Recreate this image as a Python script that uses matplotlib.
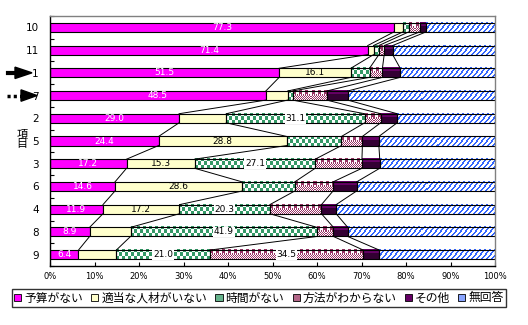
import numpy as np
import matplotlib
matplotlib.use("Agg")
import matplotlib.pyplot as plt
from matplotlib.patches import Patch, Polygon
from matplotlib.lines import Line2D
import matplotlib.transforms as mtransforms

plt.rcParams['font.family'] = ['Noto Sans CJK JP', 'DejaVu Sans']

categories = ['10', '11', '1', '7', '2', '5', '3', '6', '4', '8', '9']
series_names = ['予算がない', '適当な人材がいない', '時間がない', '方法がわからない', 'その他', '無回答']
budget = [77.3, 71.4, 51.5, 48.5, 29.0, 24.4, 17.2, 14.6, 11.9, 8.9, 6.4]
staff = [2.0, 1.3, 16.1, 4.9, 10.6, 28.8, 15.3, 28.6, 17.2, 9.2, 8.5]
time_ = [1.3, 1.2, 4.2, 1.1, 31.1, 12.3, 27.1, 11.8, 20.3, 41.9, 21.0]
method = [2.5, 1.2, 2.9, 7.7, 3.6, 4.7, 10.5, 8.6, 11.6, 3.7, 34.5]
other = [1.4, 1.9, 4.0, 4.7, 3.7, 3.7, 4.0, 5.3, 3.3, 3.2, 3.6]
noans = [15.5, 23.0, 21.3, 33.1, 22.0, 26.1, 25.9, 31.1, 35.7, 33.1, 26.0]
xtick_labels = ['0%', '10%', '20%', '30%', '40%', '50%', '60%', '70%', '80%', '90%', '100%']

series = [budget, staff, time_, method, other, noans]
kinds = ['solid_m', 'solid_y', 'green', 'method', 'other', 'stripe']

W, H = 528, 325
fig = plt.figure(figsize=(W / 100, H / 100), dpi=100)
ax = fig.add_axes([50 / W, 59 / H, 445 / W, 250 / H])
ax.set_xlim(0, 100)
ax.set_ylim(10.5, -0.5)

ypos = np.arange(len(categories))
bar_h = 0.4

GREEN = np.array([0x33, 0x99, 0x66]) / 255
MAROON = np.array([0x99, 0x33, 0x66]) / 255
PURP1 = np.array([0x66, 0x00, 0x66]) / 255
PURP2 = np.array([0x33, 0x00, 0x33]) / 255
BLUE = np.array([0x33, 0x66, 0xFF]) / 255


def make_pattern(kind, h, w):
    r, c = np.mgrid[0:h, 0:w]
    arr = np.ones((h, w, 3))
    if kind == 'green':
        m = ((r // 3) + (c // 3)) % 2 == 0
        arr[m] = GREEN
    elif kind == 'method':
        top = r < h // 2
        m1 = top & (((c // 3) % 2) == 0)
        m2 = (~top) & (((r + c) % 2) == 0)
        arr[m1 | m2] = MAROON
    elif kind == 'other':
        arr[:] = PURP2
        arr[r < h // 2] = PURP1
    elif kind == 'stripe':
        m = ((r + c) % 5) < 2
        arr[m] = BLUE
    return arr


left = np.zeros(len(categories))
cums = [left.copy()]
for vals, kind in zip(series, kinds):
    vals = np.array(vals)
    if kind == 'solid_m':
        bars = ax.barh(ypos, vals, left=left, height=bar_h, color='#FF00FF',
                       edgecolor='black', linewidth=0.8, zorder=2)
    elif kind == 'solid_y':
        bars = ax.barh(ypos, vals, left=left, height=bar_h, color='#FFFFCC',
                       edgecolor='black', linewidth=0.8, zorder=2)
    else:
        bars = ax.barh(ypos, vals, left=left, height=bar_h, facecolor='none',
                       edgecolor='black', linewidth=0.8, zorder=2)
        for b in bars:
            bb = b.get_window_extent()
            pw = max(1, int(round(bb.width)))
            ph = max(1, int(round(bb.height)))
            arr = make_pattern(kind, ph, pw)
            x0, y0 = b.get_x(), b.get_y()
            ax.imshow(arr, extent=(x0, x0 + b.get_width(), y0 + b.get_height(), y0),
                      origin='upper', aspect='auto', interpolation='nearest', zorder=1)
    for i, (b, v) in enumerate(zip(bars, vals)):
        cx = b.get_x() + b.get_width() / 2
        if kind == 'solid_m':
            ax.text(cx, ypos[i], f'{v:.1f}', color='white', ha='center', va='center',
                    fontsize=6.5, family='DejaVu Sans', zorder=5)
        elif kind == 'solid_y' and v >= 15:
            ax.text(cx, ypos[i], f'{v:.1f}', color='black', ha='center', va='center',
                    fontsize=6.5, family='DejaVu Sans', zorder=5)
        elif kind in ('green', 'method') and v >= 15:
            ax.text(cx, ypos[i], f'{v:.1f}', color='black', ha='center', va='center',
                    fontsize=6.5, family='DejaVu Sans', zorder=5,
                    bbox=dict(facecolor='white', edgecolor='none', pad=0.6))
    left = left + vals
    cums.append(left.copy())

# series lines
for k in range(1, 6):
    c = cums[k]
    for i in range(len(categories) - 1):
        ax.plot([c[i], c[i + 1]], [ypos[i] + bar_h / 2, ypos[i + 1] - bar_h / 2],
                color='black', linewidth=0.7, zorder=3)

ax.set_xlim(0, 100)
ax.set_ylim(10.5, -0.5)

ax.set_xticks(np.arange(0, 101, 10))
ax.set_xticklabels(xtick_labels, fontsize=6, family='DejaVu Sans')
ax.tick_params(axis='x', direction='in', length=3, pad=4, width=0.8)
ax.set_yticks(ypos)
ax.set_yticklabels(categories, fontsize=7.5, family='DejaVu Sans')
ax.set_yticks(np.arange(-0.5, 10.6, 1), minor=True)
ax.tick_params(axis='y', which='major', length=0, pad=8)
ax.tick_params(axis='y', which='minor', direction='in', length=3, width=0.8)

for s in ['left', 'bottom']:
    ax.spines[s].set_color('black')
    ax.spines[s].set_linewidth(1)
for s in ['top', 'right']:
    ax.spines[s].set_color('#808080')
    ax.spines[s].set_linewidth(1)

# arrows on the left
bt = mtransforms.blended_transform_factory(fig.transFigure, ax.transData)
r1 = categories.index('1')
r7 = categories.index('7')
ax.add_line(Line2D([8 / W, 17 / W], [r1, r1], transform=bt, color='black',
                   linewidth=3, clip_on=False))
ax.add_patch(Polygon([[15 / W, r1 - 0.25], [32 / W, r1], [15 / W, r1 + 0.25]],
                     closed=True, transform=bt, color='black', clip_on=False))
ax.add_line(Line2D([7 / W, 22 / W], [r7, r7], transform=bt, color='black',
                   linewidth=2.5, linestyle=(0, (0.9, 0.9)), clip_on=False))
ax.add_patch(Polygon([[21 / W, r7 - 0.25], [37 / W, r7], [21 / W, r7 + 0.25]],
                     closed=True, transform=bt, color='black', clip_on=False))

fig.text(22 / W, 1 - 139 / H, '項\n目', ha='center', va='center', fontsize=8,
         linespacing=1.1)

handles = [
    Patch(facecolor='#FF00FF', edgecolor='black', linewidth=0.6),
    Patch(facecolor='#FFFFCC', edgecolor='black', linewidth=0.6),
    Patch(facecolor='#66b38c', edgecolor='black', linewidth=0.6),
    Patch(facecolor='#b36688', edgecolor='black', linewidth=0.6),
    Patch(facecolor='#660066', edgecolor='black', linewidth=0.6),
    Patch(facecolor='#88a4ff', edgecolor='black', linewidth=0.6),
]
leg = fig.legend(handles, series_names, loc='center', bbox_to_anchor=(259 / W, 1 - 298 / H),
                 ncol=6, fontsize=8.5, frameon=True, fancybox=False, handlelength=0.6,
                 handleheight=0.6, handletextpad=0.25, columnspacing=0.7, borderpad=0.2,
                 borderaxespad=0)
leg.get_frame().set_edgecolor('black')
leg.get_frame().set_linewidth(1)

fig.savefig('out.png', dpi=100)
